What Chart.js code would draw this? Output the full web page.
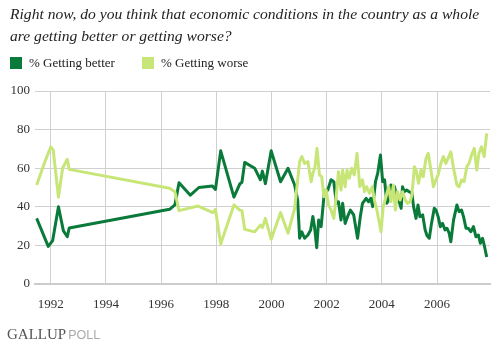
<!DOCTYPE html>
<html><head><meta charset="utf-8">
<script src="https://cdn.jsdelivr.net/npm/chart.js@4"></script>
<style>
body{margin:0;background:#fff;}
#wrap{position:relative;width:496px;height:344px;overflow:hidden;font-family:"Liberation Serif",serif;color:#222;}
#title{position:absolute;left:10px;top:3px;font-style:italic;font-size:15.6px;line-height:22px;white-space:nowrap;}
.leg{position:absolute;top:56px;font-size:13px;line-height:14px;white-space:nowrap;color:#222}
.sw{position:absolute;width:12px;height:12px;top:57px}
#foot{position:absolute;left:7px;top:327px;font-size:15px;line-height:15px;white-space:nowrap}
#foot .g{color:#555}
#foot .p{color:#aaa;font-family:"Liberation Sans",sans-serif;font-size:12.5px;margin-left:2px}
canvas{position:absolute;left:0;top:0}
</style></head>
<body>
<div id="wrap">
<canvas id="c" width="496" height="344"></canvas>
<div id="title">Right now, do you think that economic conditions in the country as a whole<br>are getting better or getting worse?</div>
<div class="sw" style="left:10px;background:#0a7a3a"></div>
<div class="leg" style="left:29px">% Getting better</div>
<div class="sw" style="left:142px;background:#c8e678"></div>
<div class="leg" style="left:161px">% Getting worse</div>
<div id="foot"><span class="g">GALLUP</span><span class="p">POLL</span></div>
</div>
<script>
const seriesNames = ["% Getting better", "% Getting worse"];
const tickYears = [1992, 1994, 1996, 1998, 2000, 2002, 2004, 2006];
const yTicks = [0, 20, 40, 60, 80, 100];

const betterDates = [1991.49,1991.91,1992.07,1992.28,1992.46,1992.6,1992.67,1996.31,1996.5,1996.65,1997.06,1997.37,1997.86,1997.97,1998.16,1998.64,1998.85,1998.93,1999.03,1999.39,1999.6,1999.67,1999.78,1999.99,2000.33,2000.6,2000.84,2000.95,2001.02,2001.1,2001.2,2001.32,2001.42,2001.5,2001.56,2001.64,2001.71,2001.8,2001.92,2002.04,2002.16,2002.26,2002.35,2002.43,2002.52,2002.58,2002.67,2002.76,2002.86,2002.98,2003.12,2003.22,2003.3,2003.43,2003.52,2003.6,2003.67,2003.77,2003.85,2003.95,2004.03,2004.1,2004.18,2004.25,2004.33,2004.4,2004.46,2004.54,2004.61,2004.7,2004.75,2004.81,2004.9,2004.99,2005.09,2005.15,2005.24,2005.31,2005.38,2005.48,2005.57,2005.64,2005.72,2005.8,2005.9,2005.96,2006.04,2006.12,2006.2,2006.29,2006.36,2006.44,2006.5,2006.6,2006.72,2006.8,2006.89,2006.96,2007.05,2007.13,2007.23,2007.32,2007.41,2007.5,2007.57,2007.65,2007.71,2007.8];
const betterValues = [34,19.5,22.5,40,27.5,24.5,29,38.7,41,52.5,46,50,50.8,49,69,45,51.8,52.7,63,60,54,58.5,52,69,53,60,51.3,43.5,23.7,27,23.7,25.4,28,35,29.7,18.8,33.2,29.7,48.3,48.7,54,53,41.8,42.6,33.2,41.8,31.4,35,38.3,35.8,23.7,35,41.8,44.4,42.6,44.4,40.1,53,57.3,66.8,53,54,41.8,43.5,51.3,45.2,50.4,45.2,43.5,39.2,50.4,47.8,48.7,47.8,47,40.1,34,40.9,34.9,35.8,28,25,23.7,31.4,39.2,38.3,34.9,29.7,31.4,28,28.9,26.3,21.9,33.2,40.9,37.5,38.3,34.9,28.9,28.9,27.1,29.7,24.5,25.4,21.1,23.7,20.2,14];

const worseDates = [1991.49,1991.79,1992.0,1992.09,1992.28,1992.43,1992.6,1992.67,1996.31,1996.5,1996.65,1997.34,1997.88,1997.97,1998.16,1998.64,1998.85,1998.93,1999.03,1999.39,1999.6,1999.67,1999.78,1999.99,2000.33,2000.6,2000.84,2001.02,2001.1,2001.2,2001.32,2001.44,2001.5,2001.58,2001.65,2001.74,2001.82,2001.9,2001.98,2002.07,2002.16,2002.26,2002.35,2002.43,2002.52,2002.58,2002.67,2002.74,2002.82,2002.91,2003.0,2003.1,2003.2,2003.3,2003.37,2003.45,2003.55,2003.65,2003.73,2003.82,2003.89,2003.97,2004.05,2004.15,2004.25,2004.33,2004.42,2004.49,2004.57,2004.66,2004.75,2004.85,2004.93,2005.02,2005.09,2005.18,2005.24,2005.33,2005.42,2005.5,2005.6,2005.68,2005.78,2005.87,2005.96,2006.04,2006.14,2006.23,2006.32,2006.4,2006.5,2006.6,2006.72,2006.8,2006.89,2006.98,2007.08,2007.16,2007.25,2007.35,2007.44,2007.52,2007.61,2007.71,2007.8];
const worseValues = [51.3,63.4,71,69.4,45,60,64.6,59.4,49.6,47.8,38,40.4,37,38.7,20.7,41,38.3,38,28.3,27,30.5,29.2,34,23.2,37,26.3,39.2,63.4,66,62.5,63.4,53,57.3,60.8,70.3,56.5,55.6,45.2,48.7,40.9,38.3,34,46.1,58.2,48.7,59,50.4,59,54.8,59.9,56.5,67.7,50.4,54,47.8,50.4,47,50.4,43.5,38.3,33.2,27.1,40.1,45.2,50.4,42.6,51.3,38.3,47.8,43.5,47.8,43.5,41.8,42.6,46.1,60.8,59,52.2,59,55.6,65.1,67.7,59,50.4,53.9,56.5,62.5,66,62.5,65.1,68.5,59.9,51.3,50.4,53.9,53,60.8,62.5,66.8,70.3,59,67.7,71.1,66,78];

const pts = (xs, ys) => xs.map((x, i) => ({x: x, y: ys[i]}));

new Chart(document.getElementById('c'), {
  type: 'line',
  data: {
    datasets: [
      {label: seriesNames[0], data: pts(betterDates, betterValues), borderColor: '#0a7a3a', borderWidth: 3, pointRadius: 0, tension: 0, order: 1, borderJoinStyle: 'round'},
      {label: seriesNames[1], data: pts(worseDates, worseValues), borderColor: '#c8e678', borderWidth: 3, pointRadius: 0, tension: 0, order: 0, borderJoinStyle: 'round'}
    ]
  },
  options: {
    responsive: false,
    animation: false,
    events: [],
    layout: {padding: {top: 91, right: 6, left: 0, bottom: 0}},
    plugins: {legend: {display: false}, title: {display: false}, tooltip: {enabled: false}},
    scales: {
      x: {
        type: 'linear', min: 1991.43, max: 2007.92,
        afterBuildTicks: a => { a.ticks = tickYears.map(v => ({value: v})); },
        afterFit: s => { s.height = 60; },
        grid: {color: '#d0d0d0', lineWidth: 1, drawTicks: false},
        border: {display: true, color: '#cccccc', width: 2},
        ticks: {padding: 13, maxRotation: 0, autoSkip: false, color: '#333', font: {family: '"Liberation Serif", serif', size: 13}, callback: v => String(v)}
      },
      y: {
        min: 0, max: 100,
        afterBuildTicks: a => { a.ticks = yTicks.map(v => ({value: v})); },
        afterFit: s => { s.width = 35; },
        grid: {color: '#d0d0d0', lineWidth: 1, drawTicks: false},
        border: {display: false},
        ticks: {padding: 5, color: '#333', font: {family: '"Liberation Serif", serif', size: 13}}
      }
    }
  }
});
</script>
</body></html>
